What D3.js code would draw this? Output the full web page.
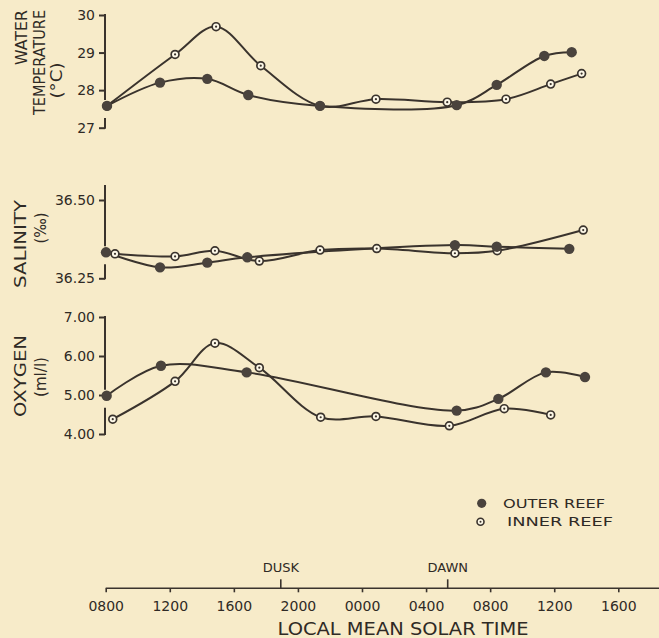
<!DOCTYPE html>
<html>
<head>
<meta charset="utf-8">
<script src="https://cdn.jsdelivr.net/npm/d3@7"></script>
<style>
  html, body { margin: 0; padding: 0; background: #f7ebc9; }
  svg { display: block; }
  text { font-family: "DejaVu Sans", sans-serif; fill: #2f2a25; }
</style>
</head>
<body>
<svg id="chart" width="659" height="638"></svg>
<script>
// ---------------- DATA ----------------
const timeTicks = [8, 12, 16, 20, 24, 28, 32, 36, 40];
const timeTickLabels = ["0800", "1200", "1600", "2000", "0000", "0400", "0800", "1200", "1600"];
const eventTimes = [18.93, 29.35];
const eventLabels = ["DUSK", "DAWN"];
const seriesNames = ["OUTER REEF", "INNER REEF"];

const tempTicks = [27, 28, 29, 30];
const tempOuterHours = [8.08, 11.39, 14.34, 16.90, 21.38, 29.91, 32.41, 35.38, 37.09];
const tempOuterValues = [27.58, 28.20, 28.30, 27.87, 27.58, 27.60, 28.14, 28.91, 29.01];
const tempInnerHours = [8.08, 12.33, 14.89, 17.68, 21.38, 24.87, 29.32, 32.99, 35.78, 37.71];
const tempInnerValues = [27.58, 28.95, 29.69, 28.65, 27.58, 27.76, 27.68, 27.76, 28.16, 28.44];

const salTicks = [36.25, 36.50];
const salOuterHours = [8.02, 11.39, 14.34, 16.84, 29.80, 32.41, 36.94];
const salOuterValues = [36.333, 36.285, 36.300, 36.317, 36.356, 36.351, 36.344];
const salInnerHours = [8.58, 12.33, 14.82, 17.59, 21.38, 24.92, 29.80, 32.44, 37.81];
const salInnerValues = [36.328, 36.320, 36.338, 36.305, 36.340, 36.345, 36.330, 36.338, 36.404];

const oxyTicks = [4, 5, 6, 7];
const oxyOuterHours = [8.06, 11.45, 16.80, 29.91, 32.51, 35.48, 37.92];
const oxyOuterValues = [4.98, 5.75, 5.58, 4.60, 4.90, 5.58, 5.46];
const oxyInnerHours = [8.44, 12.33, 14.82, 17.59, 21.42, 24.87, 29.45, 32.88, 35.78];
const oxyInnerValues = [4.38, 5.35, 6.33, 5.70, 4.43, 4.45, 4.21, 4.65, 4.49];

// ---------------- LAYOUT ----------------
const W = 659, H = 638;
const ink = "#3a332d";
const svg = d3.select("#chart");

const x = d3.scaleLinear().domain([8, 40]).range([105.7, 618.3]);
const axisX = 105;

const panels = [
  { ticks: tempTicks, fmt: d3.format("d"), domain: [27, 30], range: [127.7, 15], top: 30,
    outer: [tempOuterHours, tempOuterValues], inner: [tempInnerHours, tempInnerValues],
    labels: [
      { t: "WATER", bx: 27, cy: 37.5, len: 55 },
      { t: "TEMPERATURE", bx: 45, cy: 62.5, len: 105 },
      { t: "(°C)", bx: 62, cy: 80.5, len: 36 } ] },
  { ticks: salTicks, fmt: d3.format(".2f"), domain: [36.25, 36.50], range: [278.3, 200], top: 36.545,
    outer: [salOuterHours, salOuterValues], inner: [salInnerHours, salInnerValues],
    labels: [
      { t: "SALINITY", bx: 25.5, cy: 244, len: 88 },
      { t: "(‰)", bx: 45.5, cy: 228, len: 31 } ] },
  { ticks: oxyTicks, fmt: d3.format(".2f"), domain: [4, 7], range: [434, 317], top: 7,
    outer: [oxyOuterHours, oxyOuterValues], inner: [oxyInnerHours, oxyInnerValues],
    labels: [
      { t: "OXYGEN", bx: 25.5, cy: 376, len: 82 },
      { t: "(ml/l)", bx: 45.5, cy: 377, len: 40 } ] }
];

panels.forEach(p => {
  const y = d3.scaleLinear().domain(p.domain).range(p.range);
  const g = svg.append("g");

  // y axis ticks/labels
  const ax = g.append("g").attr("transform", `translate(${axisX},0)`)
    .call(d3.axisLeft(y).tickValues(p.ticks).tickFormat(p.fmt).tickSize(6).tickPadding(4).tickSizeOuter(0));
  ax.select(".domain").remove();
  ax.selectAll(".tick line").attr("stroke", ink).attr("stroke-width", 2);
  ax.selectAll(".tick text").attr("font-size", 14).attr("font-family", "DejaVu Sans").attr("fill", "#2f2a25");

  // broken axis line (gap around first outer point)
  const yFirst = y(p.outer[1][0]);
  const yTop = y(p.top), yBot = y(p.domain[0]);
  g.append("line").attr("x1", axisX).attr("x2", axisX).attr("y1", yTop - 1).attr("y2", yFirst - 6)
    .attr("stroke", ink).attr("stroke-width", 2);
  g.append("line").attr("x1", axisX).attr("x2", axisX).attr("y1", yFirst + 12).attr("y2", yBot + 1)
    .attr("stroke", ink).attr("stroke-width", 2);

  // rotated labels
  p.labels.forEach(l => {
    g.append("text").text(l.t)
      .attr("transform", `translate(${l.bx},${l.cy}) rotate(-90)`)
      .attr("text-anchor", "middle")
      .attr("font-size", 16)
      .attr("textLength", l.len).attr("lengthAdjust", "spacingAndGlyphs");
  });

  const line = d3.line().x(d => x(d[0])).y(d => y(d[1])).curve(d3.curveCatmullRom.alpha(0.5));
  const outerPts = p.outer[0].map((h, i) => [h, p.outer[1][i]]);
  const innerPts = p.inner[0].map((h, i) => [h, p.inner[1][i]]);

  g.append("path").datum(innerPts).attr("d", line).attr("fill", "none").attr("stroke", ink).attr("stroke-width", 2);
  g.append("path").datum(outerPts).attr("d", line).attr("fill", "none").attr("stroke", ink).attr("stroke-width", 2);

  // inner markers
  const im = g.selectAll(".inner").data(innerPts).enter().append("g")
    .attr("transform", d => `translate(${x(d[0])},${y(d[1])})`);
  im.append("circle").attr("r", 3.9).attr("fill", "#fdf8e8").attr("stroke", ink).attr("stroke-width", 1.7);
  im.append("circle").attr("r", 1.1).attr("fill", ink);

  // outer markers
  g.selectAll(".outer").data(outerPts).enter().append("circle")
    .attr("cx", d => x(d[0])).attr("cy", d => y(d[1])).attr("r", 5.2).attr("fill", "#4a433d");
});

// ---------------- LEGEND ----------------
const lg = svg.append("g");
lg.append("circle").attr("cx", 481.7).attr("cy", 503.3).attr("r", 4.6).attr("fill", "#4a433d");
lg.append("text").text(seriesNames[0]).attr("x", 503).attr("y", 507.8)
  .attr("font-size", 13).attr("textLength", 102).attr("lengthAdjust", "spacingAndGlyphs");
const li = lg.append("g").attr("transform", "translate(480.5,521.7)");
li.append("circle").attr("r", 3.5).attr("fill", "#fdf8e8").attr("stroke", ink).attr("stroke-width", 1.6);
li.append("circle").attr("r", 1).attr("fill", ink);
lg.append("text").text(seriesNames[1]).attr("x", 507).attr("y", 526.2)
  .attr("font-size", 13).attr("textLength", 106).attr("lengthAdjust", "spacingAndGlyphs");

// ---------------- X AXIS ----------------
const axisY = 588.3;
const xg = svg.append("g").attr("transform", `translate(0,${axisY})`);
xg.append("line").attr("x1", x(8)).attr("x2", W).attr("stroke", ink).attr("stroke-width", 1.6);
const xa = xg.append("g").call(d3.axisBottom(x).tickValues(timeTicks)
  .tickFormat((d, i) => timeTickLabels[i]).tickSize(4).tickPadding(9).tickSizeOuter(0));
xa.select(".domain").remove();
xa.selectAll(".tick line").attr("stroke", ink).attr("stroke-width", 1.6);
xa.selectAll(".tick text").attr("font-size", 14).attr("font-family", "DejaVu Sans").attr("fill", "#2f2a25");

eventTimes.forEach((t, i) => {
  xg.append("line").attr("x1", x(t)).attr("x2", x(t)).attr("y1", 0).attr("y2", -9)
    .attr("stroke", ink).attr("stroke-width", 1.6);
  xg.append("text").text(eventLabels[i]).attr("x", x(t)).attr("y", -16)
    .attr("text-anchor", "middle").attr("font-size", 13);
});

svg.append("text").text("LOCAL MEAN SOLAR TIME")
  .attr("x", 403).attr("y", 634.5).attr("text-anchor", "middle")
  .attr("font-size", 18).attr("textLength", 251).attr("lengthAdjust", "spacingAndGlyphs");
</script>
</body>
</html>
